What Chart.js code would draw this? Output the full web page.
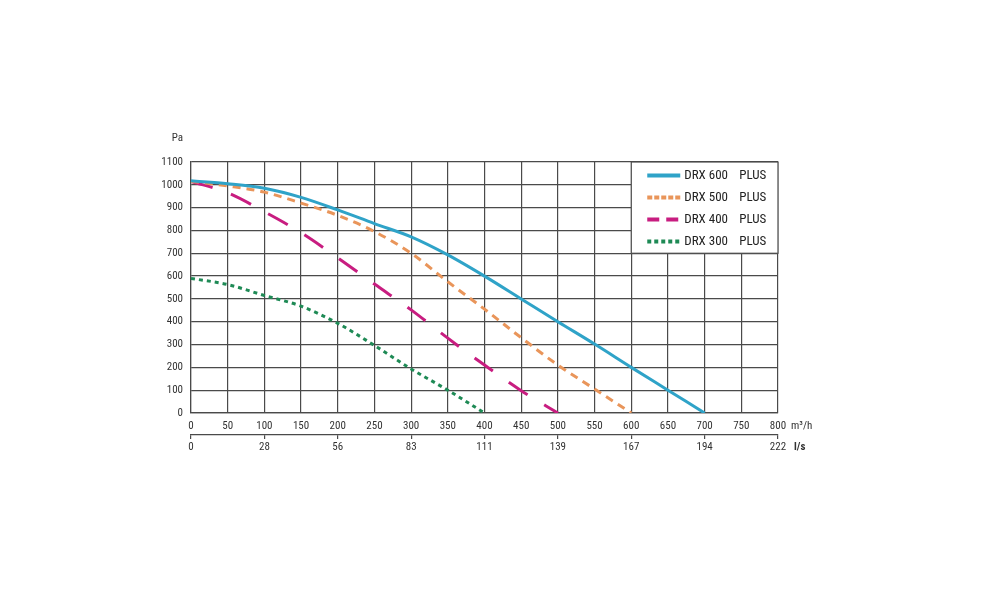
<!DOCTYPE html>
<html>
<head>
<meta charset="utf-8">
<script src="https://cdn.jsdelivr.net/npm/chart.js@4.4.1/dist/chart.umd.min.js"></script>
<style>
  html, body { margin: 0; padding: 0; background: #ffffff; }
  #wrap { width: 1000px; height: 615px; }
</style>
</head>
<body>
<div id="wrap"><canvas id="c" width="1000" height="615"></canvas></div>
<script>
// ---- data ----
const seriesNames = ['DRX 600', 'DRX 500', 'DRX 400', 'DRX 300'];
const seriesSuffix = 'PLUS';
const flow600 = [0, 50, 100, 150, 200, 250, 300, 350, 400, 450, 500, 550, 600, 650, 700];
const pa600   = [1018, 1005, 985, 945, 890, 830, 772, 693, 600, 500, 400, 302, 200, 100, 0];
const flow500 = [0, 50, 100, 150, 200, 250, 300, 350, 400, 450, 500, 550, 600];
const pa500   = [1015, 995, 968, 920, 866, 795, 700, 575, 455, 330, 210, 105, 0];
const flow400 = [0, 50, 100, 150, 200, 250, 300, 350, 400, 450, 500];
const pa400   = [1015, 965, 882, 790, 680, 565, 452, 328, 210, 98, 0];
const flow300 = [0, 50, 100, 150, 200, 250, 300, 350, 400];
const pa300   = [590, 563, 515, 468, 393, 296, 193, 100, 0];
const xTicksM3h = [0, 50, 100, 150, 200, 250, 300, 350, 400, 450, 500, 550, 600, 650, 700, 750, 800];
const xTicksLs  = ['0', '28', '56', '83', '111', '139', '167', '194', '222'];
const yTicksPa  = [0, 100, 200, 300, 400, 500, 600, 700, 800, 900, 1000, 1100];
const unitY = 'Pa';
const unitX = 'm³/h';
const unitX2 = 'l/s';

// ---- styles ----
const FONT = "'Liberation Sans Narrow', 'Roboto Condensed', 'DejaVu Sans Condensed', sans-serif";
const colors = ['#2fa3c8', '#e9955a', '#c81d80', '#1e8a55'];
const plotDash = [[], [8, 6], [22.5, 19.5], [4, 4]];
const legendDash = [[], [5, 2], [12, 7], [4, 3]];
const GRID = '#4a4a4a';

function pts(xs, ys) { return xs.map((x, i) => ({ x: x, y: ys[i] })); }
const flows = [flow600, flow500, flow400, flow300];
const pas = [pa600, pa500, pa400, pa300];

const datasets = seriesNames.map((n, i) => ({
  label: n + ' ' + seriesSuffix,
  data: pts(flows[i], pas[i]),
  borderColor: colors[i],
  borderWidth: 3,
  borderDash: plotDash[i],
  borderCapStyle: 'butt',
  pointRadius: 0,
  fill: false,
  cubicInterpolationMode: 'monotone',
  xAxisID: 'x',
  yAxisID: 'y'
}));

const decor = {
  id: 'decor',
  afterDatasetsDraw(chart) {
    const ctx = chart.ctx;
    const xs = chart.scales.x, ys = chart.scales.y, x2 = chart.scales.x2;
    ctx.save();
    // legend box
    const bl = xs.getPixelForValue(600), br = xs.getPixelForValue(800);
    const bt = ys.getPixelForValue(1100), bb = ys.getPixelForValue(700);
    ctx.fillStyle = '#ffffff';
    ctx.fillRect(bl, bt, br - bl, bb - bt);
    ctx.strokeStyle = GRID;
    ctx.lineWidth = 1.2;
    ctx.strokeRect(bl, bt, br - bl, bb - bt);
    chart.data.datasets.forEach((ds, i) => {
      const y = bt + 13.5 + i * 22;
      ctx.beginPath();
      ctx.setLineDash(legendDash[i]);
      ctx.strokeStyle = ds.borderColor;
      ctx.lineWidth = 4;
      ctx.lineCap = 'butt';
      ctx.moveTo(bl + 16, y);
      ctx.lineTo(bl + 49, y);
      ctx.stroke();
      ctx.setLineDash([]);
      ctx.fillStyle = '#222';
      ctx.font = '13px ' + FONT;
      ctx.textBaseline = 'middle';
      ctx.textAlign = 'left';
      ctx.fillText(seriesNames[i], bl + 53, y);
      ctx.fillText(seriesSuffix, bl + 108, y);
    });
    // unit labels
    ctx.fillStyle = '#333';
    ctx.font = '11px ' + FONT;
    ctx.textAlign = 'right';
    ctx.textBaseline = 'middle';
    ctx.fillText(unitY, ys.right - 8, ys.getPixelForValue(1100) - 24);
    ctx.textAlign = 'left';
    ctx.fillText(unitX, xs.right + 13, xs.bottom - 9);
    ctx.font = 'bold 11px ' + FONT;
    ctx.fillText(unitX2, x2.right + 16, x2.bottom - 13);
    ctx.restore();
  }
};

new Chart(document.getElementById('c'), {
  type: 'line',
  data: { datasets: datasets },
  plugins: [decor],
  options: {
    responsive: false,
    animation: false,
    layout: { padding: { left: 151, top: 162, right: 222, bottom: 155 } },
    plugins: { legend: { display: false }, tooltip: { enabled: false } },
    scales: {
      x: {
        type: 'linear', position: 'bottom', min: 0, max: 800,
        afterBuildTicks: (s) => { s.ticks = xTicksM3h.map(v => ({ value: v })); },
        afterFit: (s) => { s.height = 22; },
        grid: { color: GRID, lineWidth: 1.2, drawTicks: false },
        border: { display: true, color: GRID, width: 1.2 },
        ticks: { padding: 7, color: '#333', font: { family: FONT, size: 11 }, maxRotation: 0, autoSkip: false,
          callback: (v) => String(v) }
      },
      x2: {
        type: 'linear', position: 'bottom', min: 0, max: 800,
        afterBuildTicks: (s) => { s.ticks = xTicksLs.map((t, i) => ({ value: i * 100 })); },
        afterFit: (s) => { s.height = 25; },
        grid: { drawOnChartArea: false, drawTicks: true, tickLength: 4, color: GRID, lineWidth: 1.2 },
        border: { display: true, color: GRID, width: 1.2 },
        ticks: { padding: 2, color: '#333', font: { family: FONT, size: 11 }, maxRotation: 0, autoSkip: false,
          callback: (v, i) => xTicksLs[i] }
      },
      y: {
        type: 'linear', min: 0, max: 1100,
        afterBuildTicks: (s) => { s.ticks = yTicksPa.map(v => ({ value: v })); },
        afterFit: (s) => { s.width = 40; },
        grid: { color: GRID, lineWidth: 1.2, drawTicks: false },
        border: { display: true, color: GRID, width: 1.2 },
        ticks: { padding: 8, color: '#333', font: { family: FONT, size: 11 }, callback: (v) => String(v) }
      }
    }
  }
});
</script>
</body>
</html>
